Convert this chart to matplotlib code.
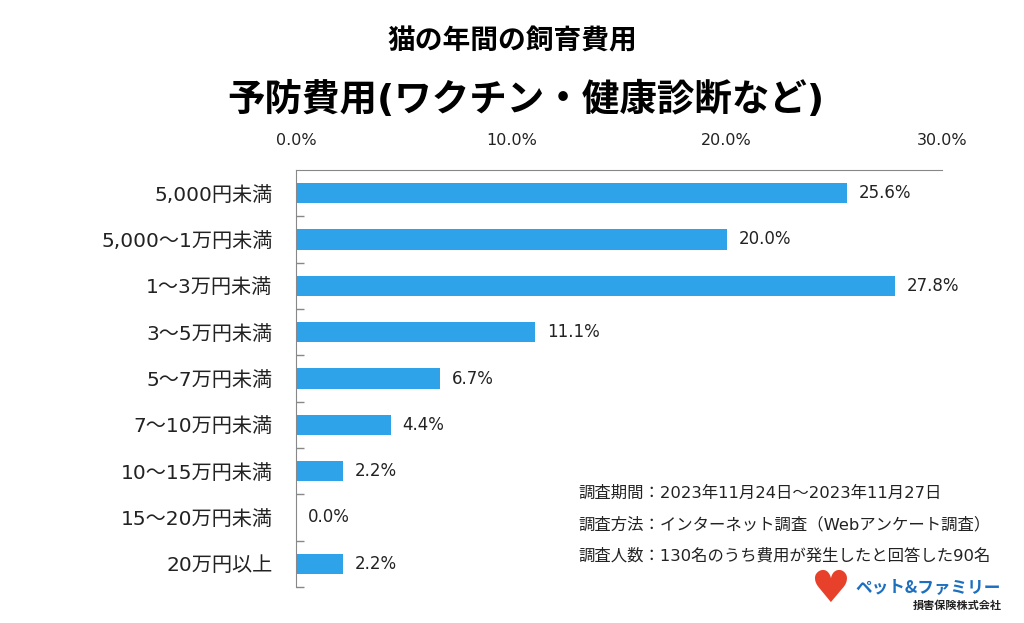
import matplotlib.pyplot as plt
from matplotlib.ticker import FixedLocator

plt.rcParams['font.family'] = ['DejaVu Sans', 'Noto Sans CJK JP']

categories = ["5,000円未満", "5,000～1万円未満", "1～3万円未満", "3～5万円未満",
              "5～7万円未満", "7～10万円未満", "10～15万円未満", "15～20万円未満",
              "20万円以上"]
values = [25.6, 20.0, 27.8, 11.1, 6.7, 4.4, 2.2, 0.0, 2.2]
xticks = [0, 10, 20, 30]

title1 = "猫の年間の飼育費用"
title2 = "予防費用(ワクチン・健康診断など)"
notes = ["調査期間：2023年11月24日～2023年11月27日",
         "調査方法：インターネット調査（Webアンケート調査）",
         "調査人数：130名のうち費用が発生したと回答した90名"]

fig = plt.figure(figsize=(10.24, 6.23), dpi=100)
ax = fig.add_axes([296/1024, 1-587/623, 646/1024, 417/623])

y = list(range(len(categories)))
ax.barh(y, values, height=0.44, color="#2EA3EA")
for yi, v in zip(y, values):
    ax.text(v + 0.55, yi, f"{v:.1f}%", va="center", ha="left", fontsize=12, color="#222222")

ax.set_xlim(0, 30)
ax.set_ylim(len(categories) - 0.5, -0.5)
ax.xaxis.tick_top()
ax.set_xticks(xticks)
ax.set_xticklabels([f"{t:.1f}%" for t in xticks], fontsize=11.5, color="#222222")
ax.tick_params(axis="x", length=0, pad=16)
ax.set_yticks(y)
ax.set_yticklabels(categories, fontsize=14.5, color="#222222")
ax.tick_params(axis="y", which="major", length=0, pad=17)
ax.yaxis.set_minor_locator(FixedLocator([i + 0.5 for i in range(len(categories))]))
ax.tick_params(axis="y", which="minor", direction="in", length=6, color="#888888", width=1)

for s in ["right", "bottom"]:
    ax.spines[s].set_visible(False)
ax.spines["top"].set_color("#888888")
ax.spines["left"].set_color("#888888")

fig.text(0.5, 1-42/623, title1, ha="center", va="center", fontsize=20, fontweight="bold")
fig.text(526/1024, 1-100/623, title2, ha="center", va="center", fontsize=27, fontweight="bold")

for i, n in enumerate(notes):
    fig.text(578/1024, 1-(493 + 31.5*i)/623, n, ha="left", va="center", fontsize=11.8, color="#222222")

# logo
fig.text(830/1024, 1-590/623, "♥", ha="center", va="center", fontsize=32, color="#E8412B")
fig.text(855/1024, 1-587/623, "ペット&ファミリー", ha="left", va="center", fontsize=12,
         fontweight="bold", color="#1C6FC0", family=["Noto Sans CJK JP"])
fig.text(1002/1024, 1-606/623, "損害保険株式会社", ha="right", va="center", fontsize=8,
         fontweight="bold", color="#222222")

fig.savefig("out.png", dpi=100)
